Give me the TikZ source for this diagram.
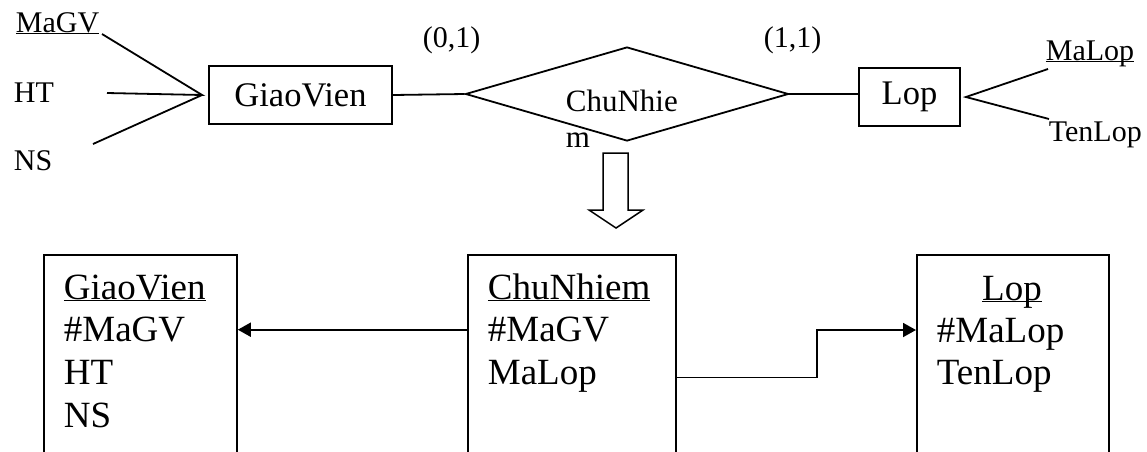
\documentclass[tikz,border=0pt]{standalone}
\usepackage{fontspec}
\setmainfont{Liberation Serif}
\usetikzlibrary{arrows.meta,shapes.geometric}
\tikzset{
  ent/.style={draw,rectangle,minimum height=58pt,inner sep=0pt,font=\fontsize{34.5}{40}\selectfont},
  attr/.style={inner sep=0pt,anchor=base west,font=\fontsize{30}{35}\selectfont},
  tbl/.style={draw,rectangle,anchor=north west,minimum height=230pt,inner sep=0pt},
  row/.style={inner sep=0pt,anchor=base west,text height=24pt,text depth=0pt,font=\fontsize{37}{42}\selectfont}
}
\newcommand{\keyname}[1]{\underline{\smash{#1}}}

\begin{document}
\begin{tikzpicture}[x=1pt,y=-1pt,>={Triangle[length=13pt,width=14pt]},line width=1.8pt]
\useasboundingbox (0,0) rectangle (1147,451);
\clip (0,0) rectangle (1147,451);
% --- ER diagram
\node[ent,minimum width=183pt] (gv) at (300.5,95) {GiaoVien};
\node[draw,diamond,minimum width=323pt,minimum height=94pt,inner sep=0pt] (cn) at (627,94) {};
\node[attr,font=\fontsize{31}{36}\selectfont] (cn1) at (565,111) {ChuNhie};
\node[attr,font=\fontsize{31}{36}\selectfont] (cn2) at (565,147) {m};
\node[ent,minimum width=101pt] (lop) at (909.5,97) {Lop};
\draw (gv.east) -- (cn.west);
\draw (cn.east) -- (cn.east -| lop.west);
\node[attr] (c01) at (422,47) {(0,1)};
\node[attr] (c11) at (763,47) {(1,1)};
% attributes of GiaoVien
\node[attr] (magv) at (15,32) {\keyname{MaGV}};
\node[attr] (ht) at (13,102) {HT};
\node[attr] (ns) at (13,170) {NS};
\coordinate (gvj) at ([xshift=-6pt]gv.west);
\coordinate (magv-e) at (102,34);
\coordinate (ht-e) at (107,93);
\coordinate (ns-e) at (93,144);
\draw (magv-e) -- (gvj) -- (ht-e) (gvj) -- (ns-e);
% attributes of Lop
\node[attr] (malop) at (1045,60) {\keyname{MaLop}};
\node[attr] (tenlop) at (1048,141) {TenLop};
\coordinate (lopj) at ([xshift=5pt]lop.east);
\coordinate (malop-e) at (1048,69);
\coordinate (tenlop-e) at (1049,119);
\draw (malop-e) -- (lopj) -- (tenlop-e);
% --- hollow arrow down to the tables
\draw[line width=1.5pt] (603,153) -- (628,153) -- (628,210) -- (643,210) -- (616,228) -- (589,210) -- (603,210) -- cycle;
% --- relations
\node[tbl,minimum width=193pt] (tgv) at (43,254) {};
\node[tbl,minimum width=208pt] (tcn) at (467,254) {};
\node[tbl,minimum width=192pt] (tlop) at (916,254) {};
\foreach \t [count=\i from 0] in {\keyname{GiaoVien},\#MaGV,HT,NS}
  \node[row] (rgv\i) at (63,{299+42.7*\i}) {\t};
\foreach \t [count=\i from 0] in {\keyname{ChuNhiem},\#MaGV,MaLop}
  \node[row] (rcn\i) at (487,{299+42.7*\i}) {\t};
\node[row,anchor=base] (rlop0) at (1012,300) {\keyname{Lop}};
\node[row] (rlop1) at (936,342) {\#MaLop};
\node[row] (rlop2) at (936,384) {TenLop};
\draw[->] (tcn.west |- rcn1.west) -- (tgv.east |- rcn1.west);
\draw[->] ([yshift=7pt]rcn2.base -| tcn.east) -- ++(140,0) |- (tlop.west |- rlop1.west);
\end{tikzpicture}
\end{document}
